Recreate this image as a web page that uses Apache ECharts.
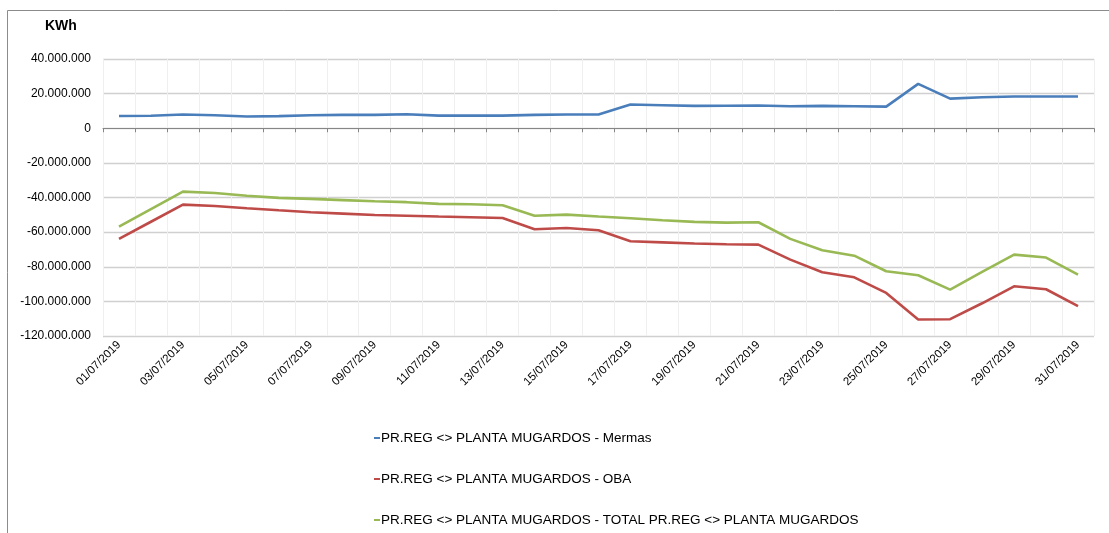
<!DOCTYPE html>
<html>
<head>
<meta charset="utf-8">
<script src="https://cdn.jsdelivr.net/npm/echarts@6/dist/echarts.min.js"></script>
<style>
html,body{margin:0;padding:0;background:#fff;}
#chart{width:1109px;height:533px;}
</style>
</head>
<body>
<div id="chart"></div>
<script>
const categories = ["01/07/2019","02/07/2019","03/07/2019","04/07/2019","05/07/2019","06/07/2019","07/07/2019","08/07/2019","09/07/2019","10/07/2019","11/07/2019","12/07/2019","13/07/2019","14/07/2019","15/07/2019","16/07/2019","17/07/2019","18/07/2019","19/07/2019","20/07/2019","21/07/2019","22/07/2019","23/07/2019","24/07/2019","25/07/2019","26/07/2019","27/07/2019","28/07/2019","29/07/2019","30/07/2019","31/07/2019"];
const seriesNames = ["PR.REG <> PLANTA MUGARDOS - Mermas","PR.REG <> PLANTA MUGARDOS - OBA","PR.REG <> PLANTA MUGARDOS - TOTAL PR.REG <> PLANTA MUGARDOS"];
const mermas = [7.1,7.2,7.9,7.5,6.8,7.0,7.5,7.7,7.7,8.1,7.3,7.3,7.3,7.7,7.9,7.9,13.7,13.3,12.9,13.0,13.1,12.7,12.9,12.7,12.5,25.6,17.1,17.9,18.3,18.3,18.3];
const oba = [-63.9,-54.0,-44.1,-44.9,-46.2,-47.4,-48.5,-49.3,-50.1,-50.5,-51.0,-51.4,-51.8,-58.3,-57.6,-58.9,-65.3,-65.9,-66.6,-67.0,-67.2,-75.9,-83.2,-86.1,-95.1,-110.5,-110.3,-101.1,-91.3,-93.0,-102.8];
const total = [-56.8,-46.7,-36.6,-37.4,-39.0,-40.2,-40.8,-41.5,-42.2,-42.7,-43.7,-43.9,-44.5,-50.5,-49.9,-51.0,-52.0,-53.1,-54.1,-54.5,-54.3,-63.9,-70.5,-73.6,-82.6,-84.9,-93.2,-83.0,-73.0,-74.7,-84.5];
const yTicks = [-120,-100,-80,-60,-40,-20,0,20,40];

const M = 1000000;
const colors = ['#4a7ebb','#be4b48','#98b954'];
function fmt(v){
  const neg = v < 0; let s = String(Math.round(Math.abs(v)));
  s = s.replace(/\B(?=(\d{3})+(?!\d))/g,'.');
  return (neg?'-':'') + s;
}
const font = '"Liberation Sans", Arial, sans-serif';
const chart = echarts.init(document.getElementById('chart'), null, {renderer:'canvas'});
chart.setOption({
  animation:false,
  backgroundColor:'#fff',
  color: colors,
  graphic:[
    {type:'rect', shape:{x:7.5,y:10.5,width:1200,height:600}, style:{fill:'none',stroke:'#8c8c8c',lineWidth:1}, silent:true, z:-1},
    {type:'text', left:45, top:19, style:{text:'KWh', font:'bold 14px '+font, fill:'#000'}}
  ],
  grid:{left:103, right:15, top:59, bottom:197, containLabel:false},
  xAxis:{
    type:'category', data:categories, boundaryGap:true,
    axisLine:{lineStyle:{color:'#868686',width:1}},
    axisTick:{show:true, interval:0, length:4, lineStyle:{color:'#868686'}},
    axisLabel:{interval:1, rotate:45, fontSize:11.5, fontFamily:font, color:'#000', margin:7},
    splitLine:{show:true, interval:0, lineStyle:{color:'#efefef',width:1}}
  },
  yAxis:{
    type:'value', min:yTicks[0]*M, max:yTicks[yTicks.length-1]*M, interval:20*M,
    axisLine:{show:false}, axisTick:{show:false},
    axisLabel:{formatter:fmt, fontSize:12, fontFamily:font, color:'#000', margin:12},
    splitLine:{lineStyle:{color:'#d0d0d0',width:1.3}}
  },
  legend:{
    orient:'vertical', left:369, top:426, itemGap:27,
    icon:'rect', itemWidth:6, itemHeight:2,
    textStyle:{fontSize:13.5, fontFamily:font, color:'#000', padding:[0,0,0,-4]},
    data: seriesNames
  },
  series:[
    {name:seriesNames[0], type:'line', data:mermas.map(v=>v*M), symbol:'none', lineStyle:{width:2.6}},
    {name:seriesNames[1], type:'line', data:oba.map(v=>v*M), symbol:'none', lineStyle:{width:2.6}},
    {name:seriesNames[2], type:'line', data:total.map(v=>v*M), symbol:'none', lineStyle:{width:2.6}}
  ]
});
</script>
</body>
</html>
